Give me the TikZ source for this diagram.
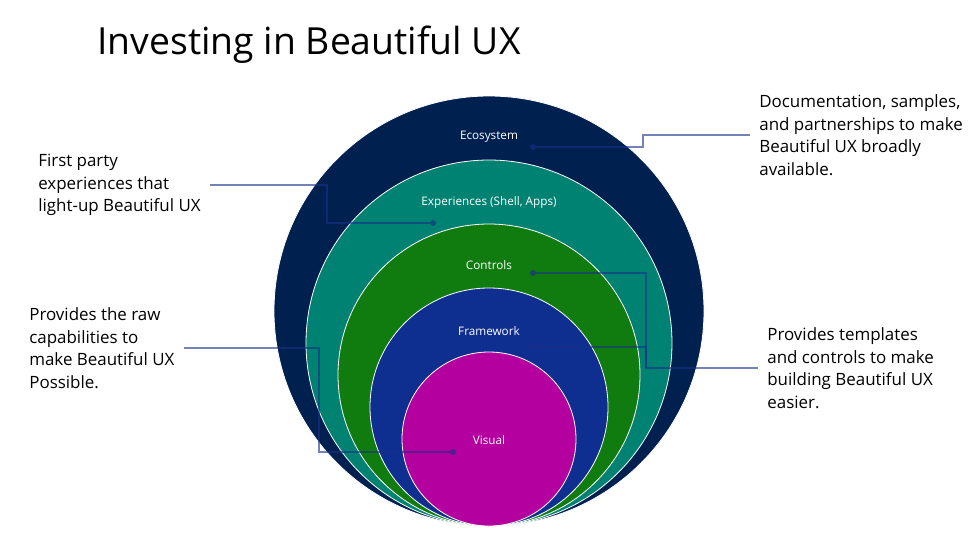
\documentclass[tikz,border=0pt]{standalone}
\usepackage{fontspec}
\setmainfont{Open Sans}
\usetikzlibrary{positioning}
\definecolor{ecoblue}{HTML}{002050}
\definecolor{expteal}{HTML}{008272}
\definecolor{ctlgreen}{HTML}{107C10}
\definecolor{fwblue}{HTML}{0E2E90}
\definecolor{vismag}{HTML}{B4009E}
\definecolor{linkblue}{HTML}{1A2F8A}
\tikzset{
  ring/.style={draw=white, line width=0.6pt},
  ringlabel/.style={text=white, font=\fontsize{8.8}{10}\selectfont},
  note/.style={align=left, font=\fontsize{12.7}{16.9}\selectfont, inner sep=0pt, outer xsep=7pt},
  link/.style={draw=linkblue, draw opacity=0.6, line width=1.5pt},
  dot/.style={circle, fill=linkblue, fill opacity=0.65, inner sep=0pt, minimum size=4.5pt},
}
\begin{document}
\begin{tikzpicture}[x=0.75pt,y=-0.75pt]
	\useasboundingbox[fill=white] (0,0) rectangle (979,551);
	
	\node[anchor=base west, inner sep=0pt, font=\fontsize{28}{34}\selectfont] (title) at (97,54) {Investing in Beautiful UX};
	
	% nested circles, all touching at the bottom
	\foreach \r/\c in {215/ecoblue,183/expteal,151/ctlgreen,119/fwblue,87/vismag}
		\path[ring, fill=\c] (489,{526-\r}) circle[radius=\r];
	
	\node[ringlabel] (eco) at (489,137) {Ecosystem};
	\node[ringlabel] (exp) at (489,202) {Experiences (Shell, Apps)};
	\node[ringlabel] (ctl) at (489,265) {Controls};
	\node[ringlabel] (fw) at (489,331) {Framework};
	\node[ringlabel] (vis) at (489,440) {Visual};
	
	\node[dot] (dEco) at (533,147) {};
	\node[dot] (dExp) at (433,223) {};
	\node[dot] (dCtl) at (533,273) {};
	\node[dot] (dFw) at (533,347) {};
	\node[dot] (dVis) at (453,452) {};
	
	\node[note, anchor=west] (first) at (29,185) {First party\\experiences that\\light-up Beautiful UX};
	\node[note, anchor=west] (raw) at (20,348) {Provides the raw\\capabilities to\\make Beautiful UX\\Possible.};
	\node[note, anchor=west] (doc) at (750,135) {Documentation, samples,\\and partnerships to make\\Beautiful UX broadly\\available.};
	\node[note, anchor=west] (templ) at (758,368) {Provides templates\\and controls to make\\building Beautiful UX\\easier.};
	
	\coordinate (bEco) at (643,0);
	\coordinate (bExp) at (327,0);
	\coordinate (bCtl) at (646,0);
	\coordinate (bVis) at (319,0);
	
	\draw[link] (doc.west) -- (doc.west -| bEco) |- (dEco);
	\draw[link] (first.east) -- (first.east -| bExp) |- (dExp);
	\draw[link] (templ.west) -- (templ.west -| bCtl) |- (dCtl);
	\draw[link] (dFw) -| (templ.west -| bCtl);
	\draw[link] (raw.east) -- (raw.east -| bVis) |- (dVis);
\end{tikzpicture}
\end{document}
